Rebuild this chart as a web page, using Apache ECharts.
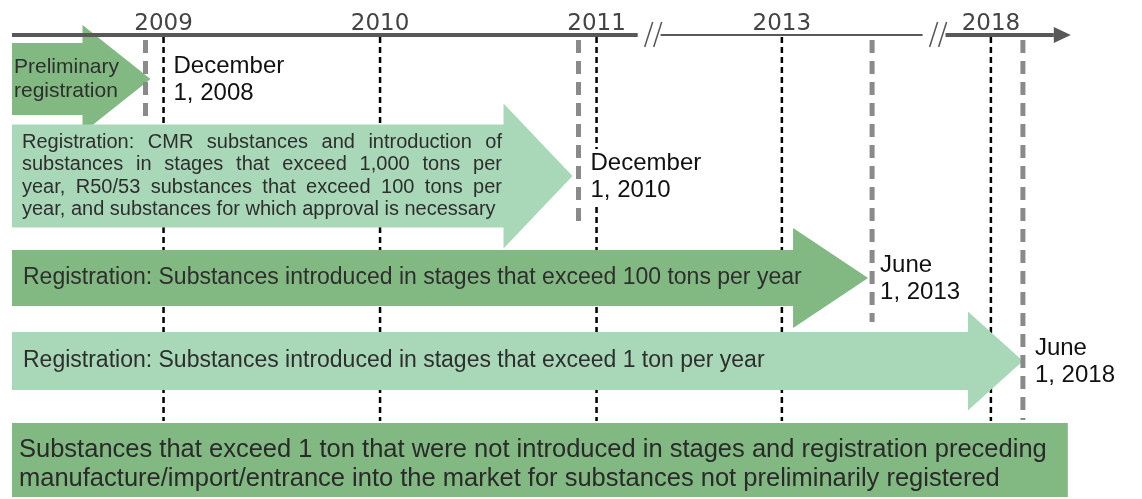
<!DOCTYPE html>
<html><head><meta charset="utf-8">
<script src="https://cdn.jsdelivr.net/npm/echarts@6/dist/echarts.min.js"></script>
<style>html,body{margin:0;padding:0;background:#fff}#c{width:1142px;height:499px}</style>
</head><body><div id="c"></div>
<script>
// ---------------- data ----------------
const yearTicks = [2009, 2010, 2011, 2013, 2018];
const deadlineDates = [2008 + 11 / 12, 2010 + 11 / 12, 2013 + 5 / 12, 2018 + 5 / 12];
const deadlineLabels = ['December\n1, 2008', 'December\n1, 2010', 'June\n1, 2013', 'June\n1, 2018'];
const phaseLabels = [
  'Preliminary\nregistration',
  'Registration: CMR substances and introduction of\nsubstances in stages that exceed 1,000 tons per\nyear, R50/53 substances that exceed 100 tons per\nyear, and substances for which approval is necessary',
  'Registration: Substances introduced in stages that exceed 100 tons per year',
  'Registration: Substances introduced in stages that exceed 1 ton per year'
];
const phaseEnds = deadlineDates;
const finalLabel = 'Substances that exceed 1 ton that were not introduced in stages and registration preceding\nmanufacture/import/entrance into the market for substances not preliminarily registered';

// ---------------- layout (broken time axis) ----------------
const SEGMENTS = [
  { start: 2008.3, end: 2011.19, scale: 1 },
  { start: 2012.44, end: 2013.65, scale: 1 },
  { start: 2017.41, end: 2019.04, scale: 0.355 }
];
const BREAK_GAP = 0.106;
function axisPos(d) {
  let u = 0;
  for (let i = 0; i < SEGMENTS.length; i++) {
    const s = SEGMENTS[i];
    if (d <= s.end || i === SEGMENTS.length - 1) return u + (Math.max(d, s.start) - s.start) * s.scale;
    u += (s.end - s.start) * s.scale + BREAK_GAP;
  }
}
const AXIS_END = axisPos(SEGMENTS[SEGMENTS.length - 1].end);
const PX_PER_YEAR = 216.5;
const GRID_LEFT = 12;
const AXIS_Y = 35;
const H = 499;

const DARK = '#82b882', LIGHT = '#a9d8b8';
const FONT = '"Liberation Sans", Arial, sans-serif';
const SEG_STYLE = [
  { color: '#585858', width: 4 },
  { color: '#222222', width: 1.3 },
  { color: '#585858', width: 4 }
];
const ROWS = [
  { cy: 79, body: 36, head: 54, headLen: 68, tipDx: 5, fill: DARK, fs: 21, lh: 24, textX: 14, labelDx: 26, dashEnd: 116 },
  { cy: 176, body: 51.5, head: 72.5, headLen: 69, tipDx: -6, fill: LIGHT, fs: 20, lh: 22.5, textX: 22, justify: 480, labelDx: 10, dashEnd: 228 },
  { cy: 278, body: 28, head: 50, headLen: 75, tipDx: -4, fill: DARK, fs: 23, lh: 26, textX: 23, labelDx: 6, dashEnd: 322 },
  { cy: 361, body: 29, head: 49.5, headLen: 55, tipDx: 0, fill: LIGHT, fs: 23, lh: 26, textX: 23, labelDx: 10, dashEnd: 420 }
];
const BOTTOM = { top: 423, bottom: 497, textX: 19, fs: 25.5, lh: 29, fill: DARK };

const measureCtx = document.createElement('canvas').getContext('2d');
function textW(str, fs) { measureCtx.font = fs + 'px ' + FONT; return measureCtx.measureText(str).width; }

function textEl(text, x, y, fs, lh, extra) {
  return { type: 'text', style: Object.assign({ text: text, x: x, y: y, fill: '#2e2e2e', fontSize: fs, fontFamily: FONT, lineHeight: lh, align: 'left', verticalAlign: 'middle' }, extra || {}) };
}

const chart = echarts.init(document.getElementById('c'));
chart.setOption({
  animation: false,
  grid: { left: GRID_LEFT, top: AXIS_Y, width: AXIS_END * PX_PER_YEAR, bottom: 0 },
  xAxis: {
    type: 'value', position: 'top', min: 0, max: AXIS_END,
    axisLine: { show: false }, axisTick: { show: false }, splitLine: { show: false },
    axisLabel: {
      customValues: yearTicks.map(axisPos),
      formatter: function (v) {
        let best = yearTicks[0];
        yearTicks.forEach(function (y) { if (Math.abs(axisPos(y) - v) < Math.abs(axisPos(best) - v)) best = y; });
        return String(best);
      },
      fontFamily: '"DejaVu Sans", sans-serif', fontSize: 23, color: '#444', margin: -1
    }
  },
  yAxis: { type: 'value', min: AXIS_Y, max: H, inverse: true, show: false },
  series: [
    { // year gridlines
      type: 'custom', z: 1, silent: true,
      data: yearTicks.map(function (y) { return [axisPos(y)]; }),
      renderItem: function (params, api) {
        const a = api.coord([api.value(0), AXIS_Y + 2]), b = api.coord([api.value(0), BOTTOM.top - 2]);
        return { type: 'line', shape: { x1: a[0], y1: a[1], x2: b[0], y2: b[1] }, style: { stroke: '#000', lineWidth: 2.5, lineDash: [6, 4] } };
      }
    },
    { // phase arrows
      type: 'custom', z: 3, silent: true,
      data: phaseLabels.map(function (l, i) { return [axisPos(SEGMENTS[0].start), axisPos(phaseEnds[i]), i]; }),
      renderItem: function (params, api) {
        const i = api.value(2), R = ROWS[i];
        const p0 = api.coord([api.value(0), R.cy]), p1 = api.coord([api.value(1), R.cy]);
        const x0 = p0[0], cy = p0[1], xt = p1[0] + R.tipDx, xh = xt - R.headLen;
        const children = [{
          type: 'polygon',
          shape: { points: [[x0, cy - R.body], [xh, cy - R.body], [xh, cy - R.head], [xt, cy], [xh, cy + R.head], [xh, cy + R.body], [x0, cy + R.body]] },
          style: { fill: R.fill }
        }];
        const lines = phaseLabels[i].split('\n');
        const x = R.textX;
        const y0 = cy - (lines.length - 1) * R.lh / 2;
        lines.forEach(function (line, k) {
          const y = y0 + k * R.lh;
          if (R.justify && k < lines.length - 1) {
            const words = line.split(' ');
            const ws = words.map(function (w) { return textW(w, R.fs); });
            const total = ws.reduce(function (s, w) { return s + w; }, 0);
            const gap = (R.justify - total) / (words.length - 1);
            let cx = x;
            words.forEach(function (w, j) { children.push(textEl(w, cx, y, R.fs, R.lh)); cx += ws[j] + gap; });
          } else {
            children.push(textEl(line, x, y, R.fs, R.lh));
          }
        });
        return { type: 'group', children: children };
      }
    },
    { // final (non-phase-in) box
      type: 'custom', z: 3, silent: true,
      data: [[axisPos(SEGMENTS[0].start), AXIS_END]],
      renderItem: function (params, api) {
        const a = api.coord([api.value(0), BOTTOM.top]), b = api.coord([api.value(1), BOTTOM.bottom]);
        return { type: 'group', children: [
          { type: 'rect', shape: { x: a[0], y: a[1], width: b[0] - a[0] - 3, height: b[1] - a[1] }, style: { fill: BOTTOM.fill } },
          textEl(finalLabel, BOTTOM.textX, (a[1] + b[1]) / 2 + 4, BOTTOM.fs, BOTTOM.lh, { fill: '#2a2a2a' })
        ] };
      }
    },
    { // deadlines
      type: 'custom', z: 4, silent: true,
      data: deadlineDates.map(function (d, i) { return [axisPos(d), i]; }),
      renderItem: function (params, api) {
        const i = api.value(1), R = ROWS[i];
        const a = api.coord([api.value(0), AXIS_Y + 5]), b = api.coord([api.value(0), R.dashEnd]);
        return { type: 'group', children: [
          { type: 'line', shape: { x1: a[0], y1: a[1], x2: b[0], y2: b[1] }, style: { stroke: '#8a8a8a', lineWidth: 5, lineDash: [13, 8] } },
          textEl(deadlineLabels[i], a[0] + R.labelDx, api.coord([0, R.cy])[1] + 1, 24, 27, { fill: '#111', backgroundColor: '#fff', padding: [1, 2] })
        ] };
      }
    },
    { // broken timeline axis
      type: 'custom', z: 5, silent: true,
      data: SEGMENTS.map(function (s, i) { return [axisPos(s.start), axisPos(s.end), i]; }),
      renderItem: function (params, api) {
        const i = api.value(2), st = SEG_STYLE[i];
        const a = api.coord([api.value(0), AXIS_Y]), b = api.coord([api.value(1), AXIS_Y]);
        const y = a[1];
        const last = i === SEGMENTS.length - 1;
        const xEnd = last ? b[0] - 17 : b[0];
        const children = [{ type: 'line', shape: { x1: a[0], y1: y, x2: xEnd, y2: y }, style: { stroke: st.color, lineWidth: st.width } }];
        if (last) {
          children.push({ type: 'polygon', shape: { points: [[xEnd, y - 8], [b[0], y], [xEnd, y + 8]] }, style: { fill: st.color } });
        } else {
          const g = b[0];
          children.push({ type: 'line', shape: { x1: g + 7, y1: y + 12, x2: g + 15, y2: y - 13 }, style: { stroke: '#555', lineWidth: 1.5 } });
          children.push({ type: 'line', shape: { x1: g + 16, y1: y + 12, x2: g + 24, y2: y - 13 }, style: { stroke: '#555', lineWidth: 1.5 } });
        }
        return { type: 'group', children: children };
      }
    }
  ]
});
</script></body></html>
